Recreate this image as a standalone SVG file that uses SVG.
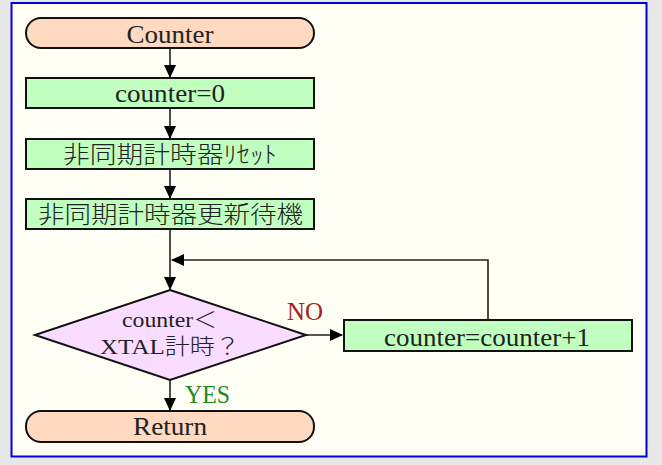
<svg xmlns="http://www.w3.org/2000/svg" width="662" height="465" viewBox="0 0 662 465">
<style>
.t{font-family:"Liberation Serif","Noto Sans CJK JP",serif;font-size:25px;fill:#222;text-anchor:middle}
.j{font-size:24px;font-weight:300}
.d{font-size:22px}
.term{fill:#ffd9c0;stroke:#111;stroke-width:2}
.box{fill:#c0ffc0;stroke:#111;stroke-width:2}
.dia{fill:#f9dcff;stroke:#111;stroke-width:2}
.ln{fill:none;stroke:#222;stroke-width:1.6}
</style>
<defs>
<marker id="ah" markerWidth="13" markerHeight="12" refX="12" refY="6" orient="auto" markerUnits="userSpaceOnUse">
<path d="M0,0 L13,6 L0,12 Z" fill="#000"/>
</marker>
</defs>
<rect x="0" y="0" width="662" height="465" fill="#e8e8e8"/>
<rect x="11.5" y="3" width="635" height="453.5" fill="#fffff5" stroke="#0000dd" stroke-width="2"/>
<g id="connectors">
<line class="ln" x1="170" y1="49" x2="170" y2="77" marker-end="url(#ah)"/>
<line class="ln" x1="170" y1="109" x2="170" y2="138" marker-end="url(#ah)"/>
<line class="ln" x1="170" y1="170" x2="170" y2="198" marker-end="url(#ah)"/>
<line class="ln" x1="170" y1="230" x2="170" y2="289" marker-end="url(#ah)"/>
<polyline class="ln" points="488,320 488,260 172,260" marker-end="url(#ah)"/>
<line class="ln" x1="306" y1="335" x2="342" y2="335" marker-end="url(#ah)"/>
<line class="ln" x1="170" y1="380" x2="170" y2="410" marker-end="url(#ah)"/>
</g>
<g id="start">
<rect class="term" x="26" y="18" width="288" height="30" rx="15" ry="15"/>
<text class="t" x="170" y="43" textLength="87" lengthAdjust="spacingAndGlyphs">Counter</text>
</g>
<g id="init">
<rect class="box" x="26" y="78" width="288" height="30"/>
<text class="t" x="170" y="102" textLength="110" lengthAdjust="spacingAndGlyphs">counter=0</text>
</g>
<g id="reset">
<rect class="box" x="26" y="139" width="288" height="30"/>
<text class="t j" x="170" y="163" textLength="214" lengthAdjust="spacingAndGlyphs">非同期計時器ﾘｾｯﾄ</text>
</g>
<g id="wait">
<rect class="box" x="26" y="199" width="288" height="30"/>
<text class="t j" x="170.5" y="223" textLength="265" lengthAdjust="spacingAndGlyphs">非同期計時器更新待機</text>
</g>
<g id="decision">
<polygon class="dia" points="170,290 306,335 170,380 35,335"/>
<text class="t d" x="169.5" y="327" textLength="95" lengthAdjust="spacingAndGlyphs">counter<tspan style="font-weight:300">＜</tspan></text>
<text class="t d" x="170" y="354" textLength="140" lengthAdjust="spacingAndGlyphs">XTAL<tspan style="font-weight:300">計時？</tspan></text>
<text class="t" x="305" y="320" style="fill:#a52222" textLength="36" lengthAdjust="spacingAndGlyphs">NO</text>
<text class="t" x="207.5" y="403" style="fill:#228822" textLength="45" lengthAdjust="spacingAndGlyphs">YES</text>
</g>
<g id="increment">
<rect class="box" x="344" y="320" width="288" height="31"/>
<text class="t" x="487" y="346" textLength="206" lengthAdjust="spacingAndGlyphs">counter=counter+1</text>
</g>
<g id="end">
<rect class="term" x="26" y="411" width="288" height="31" rx="15" ry="15"/>
<text class="t" x="170" y="435" textLength="74" lengthAdjust="spacingAndGlyphs">Return</text>
</g>
</svg>
